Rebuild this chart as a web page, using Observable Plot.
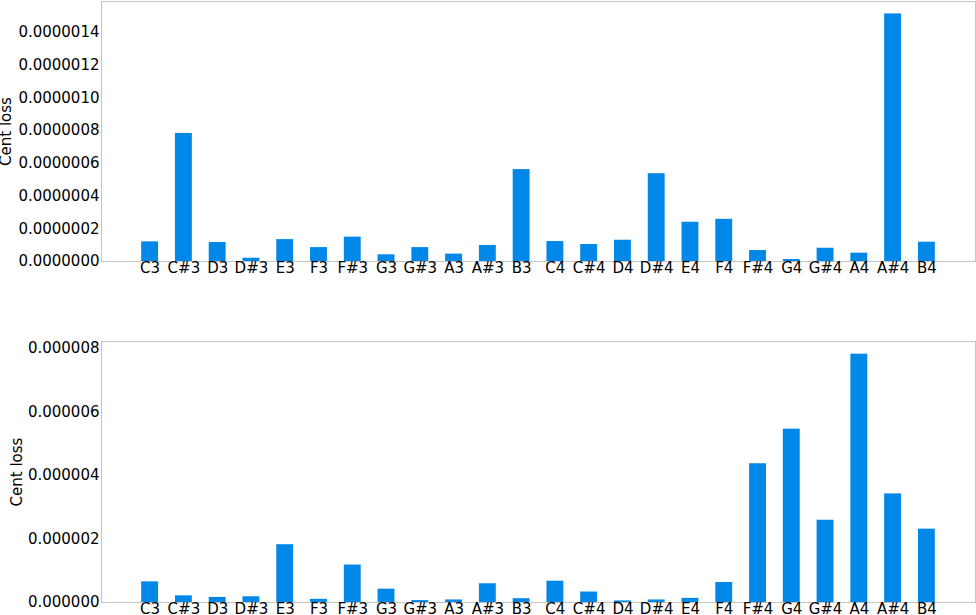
<!DOCTYPE html>
<html>
<head>
<meta charset="utf-8">
<script src="https://cdn.jsdelivr.net/npm/d3@7"></script>
<script src="https://cdn.jsdelivr.net/npm/@observablehq/plot@0.6"></script>
<style>
  html, body { margin: 0; padding: 0; background: #fff; }
  #chart svg { display: block; }
</style>
</head>
<body>
<div id="chart"></div>
<script>
const notes = ["C3","C#3","D3","D#3","E3","F3","F#3","G3","G#3","A3","A#3","B3",
               "C4","C#4","D4","D#4","E4","F4","F#4","G4","G#4","A4","A#4","B4"];

// top panel values (cent loss)
const lossTop = [1.20e-7, 7.83e-7, 1.16e-7, 0.20e-7, 1.34e-7, 0.85e-7, 1.49e-7, 0.41e-7,
                 0.85e-7, 0.45e-7, 0.98e-7, 5.62e-7, 1.22e-7, 1.04e-7, 1.30e-7, 5.37e-7,
                 2.40e-7, 2.58e-7, 0.67e-7, 0.12e-7, 0.81e-7, 0.51e-7, 15.14e-7, 1.18e-7];

// bottom panel values (cent loss)
const lossBottom = [0.65e-6, 0.21e-6, 0.16e-6, 0.18e-6, 1.82e-6, 0.10e-6, 1.18e-6, 0.42e-6,
                    0.06e-6, 0.08e-6, 0.59e-6, 0.12e-6, 0.67e-6, 0.33e-6, 0.05e-6, 0.08e-6,
                    0.13e-6, 0.63e-6, 4.37e-6, 5.46e-6, 2.59e-6, 7.82e-6, 3.42e-6, 2.31e-6];

const ticksTop = [0, 2e-7, 4e-7, 6e-7, 8e-7, 10e-7, 12e-7, 14e-7];
const ticksBottom = [0, 2e-6, 4e-6, 6e-6, 8e-6];

const yLabel = "Cent loss";
const barColor = "#0088e8";
const frameColor = "#c4c4c4";

function panel(values, ticks, yMax, fmt, opts) {
  const data = notes.map((n, i) => ({note: n, value: values[i]}));
  return Plot.plot({
    width: 976,
    height: opts.height,
    marginLeft: 101,
    marginRight: 1,
    marginTop: opts.marginTop,
    marginBottom: opts.marginBottom,
    style: {fontFamily: "DejaVu Sans", fontSize: "15px", color: "#000", background: "#fff"},
    x: {type: "band", domain: notes, paddingInner: 0.5, paddingOuter: 1.19, round: false},
    y: {domain: [0, yMax]},
    marks: [
      Plot.barY(data, {x: "note", y: "value", fill: barColor}),
      Plot.frame({stroke: frameColor, strokeWidth: 1}),
      Plot.axisX({tickSize: 0, tickPadding: 1, label: null}),
      Plot.axisY({ticks: ticks, tickFormat: d3.format(fmt), tickSize: 0, tickPadding: 2,
                  label: yLabel, labelAnchor: "center", labelArrow: "none",
                  labelOffset: opts.labelOffset})
    ]
  });
}

const chart = document.getElementById("chart");
chart.append(panel(lossTop, ticksTop, 1.59e-6, ".7f",
  {height: 330, marginTop: 1, marginBottom: 69, labelOffset: 101}));
chart.append(panel(lossBottom, ticksBottom, 8.22e-6, ".6f",
  {height: 285, marginTop: 11, marginBottom: 13, labelOffset: 90}));
</script>
</body>
</html>
